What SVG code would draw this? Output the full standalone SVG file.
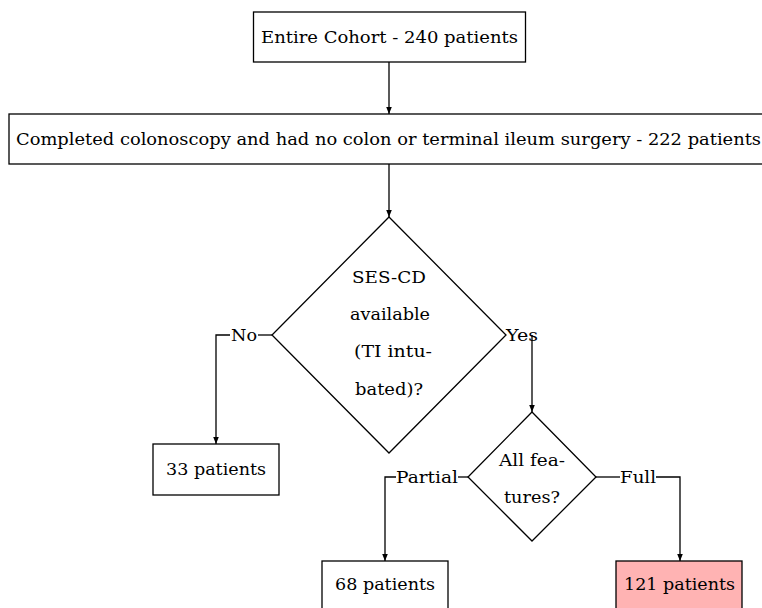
<svg xmlns="http://www.w3.org/2000/svg" width="762" height="608" viewBox="0 0 762 608">
<style>
  .box { fill: #ffffff; stroke: #000000; stroke-width: 1.3; }
  .hl { fill: #ffb3b3; }
  text { font-family: 'DejaVu Serif', 'Liberation Serif', serif; font-size: 17.5px; fill: #000000; text-anchor: middle; }
  .c { fill: none; stroke: #000000; stroke-width: 1.3; }
</style>
<defs>
  <marker id="ah" viewBox="0 0 10 10" refX="10" refY="5" markerWidth="7" markerHeight="7" orient="auto" markerUnits="userSpaceOnUse">
    <path d="M0,1 L10,5 L0,9 Z" fill="#000000"/>
  </marker>
</defs>
<rect width="762" height="608" fill="#ffffff"/>
<g id="connectors">
  <path class="c" d="M389,62 V114" marker-end="url(#ah)"/>
  <path class="c" d="M389,164 V217" marker-end="url(#ah)"/>
  <path class="c" d="M272,335 H258"/>
  <path class="c" d="M230,335 H216 V444" marker-end="url(#ah)"/>
  <path class="c" d="M532,335 V412" marker-end="url(#ah)"/>
  <path class="c" d="M468,477 H458"/>
  <path class="c" d="M396,477 H385 V561" marker-end="url(#ah)"/>
  <path class="c" d="M596,477 H620"/>
  <path class="c" d="M656,477 H680 V561" marker-end="url(#ah)"/>
  <text x="244" y="341" textLength="26" lengthAdjust="spacingAndGlyphs">No</text>
  <text x="522" y="341" textLength="32" lengthAdjust="spacingAndGlyphs">Yes</text>
  <text x="427" y="483" textLength="62" lengthAdjust="spacingAndGlyphs">Partial</text>
  <text x="638" y="483" textLength="36" lengthAdjust="spacingAndGlyphs">Full</text>
</g>
<g id="cohort">
  <rect class="box" x="253.5" y="12" width="272" height="50"/>
  <text x="389.5" y="43" textLength="257" lengthAdjust="spacingAndGlyphs">Entire Cohort - 240 patients</text>
</g>
<g id="completed">
  <rect class="box" x="9" y="114" width="760" height="50"/>
  <text x="388.5" y="145" textLength="745" lengthAdjust="spacingAndGlyphs">Completed colonoscopy and had no colon or terminal ileum surgery - 222 patients</text>
</g>
<g id="sescd">
  <polygon class="box" points="389,217 506,335 389,453 272,335"/>
  <text x="389" y="283" textLength="74" lengthAdjust="spacingAndGlyphs">SES-CD</text>
  <text x="390" y="320" textLength="80" lengthAdjust="spacingAndGlyphs">available</text>
  <text x="393" y="357" textLength="78" lengthAdjust="spacingAndGlyphs">(TI intu-</text>
  <text x="389" y="395" textLength="68" lengthAdjust="spacingAndGlyphs">bated)?</text>
</g>
<g id="n33">
  <rect class="box" x="153" y="444" width="126" height="51"/>
  <text x="216" y="475" textLength="100" lengthAdjust="spacingAndGlyphs">33 patients</text>
</g>
<g id="allfeatures">
  <polygon class="box" points="532,412 596,477 532,541 468,477"/>
  <text x="532" y="466" textLength="66" lengthAdjust="spacingAndGlyphs">All fea-</text>
  <text x="532" y="503" textLength="56" lengthAdjust="spacingAndGlyphs">tures?</text>
</g>
<g id="n68">
  <rect class="box" x="322" y="561" width="126" height="52"/>
  <text x="385" y="590" textLength="100" lengthAdjust="spacingAndGlyphs">68 patients</text>
</g>
<g id="n121">
  <rect class="box hl" x="616" y="561" width="126" height="52"/>
  <text x="679.5" y="590" textLength="111" lengthAdjust="spacingAndGlyphs">121 patients</text>
</g>
</svg>
